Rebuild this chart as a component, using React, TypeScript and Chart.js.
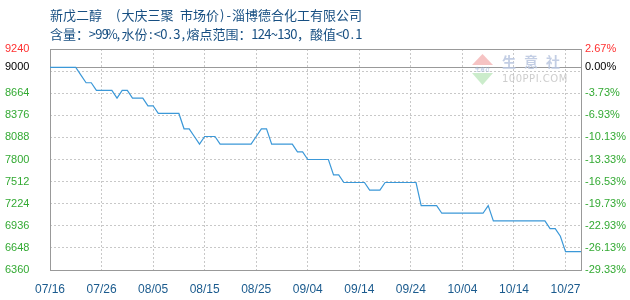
import { useEffect, useRef } from "react";
import { Chart, registerables } from "chart.js";

Chart.register(...registerables);

// Header text
const titleLine1 = "新戊二醇  (大庆三聚 市场价)-淄博德合化工有限公司";
const titleLine2 = "含量：>99%,水份:<0.3,熔点范围：124~130，酸值<0.1";

// X axis: one point per trading day, a label every 10 points
const xTickLabels = ["07/16", "07/26", "08/05", "08/15", "08/25", "09/04", "09/14", "09/24", "10/04", "10/14", "10/27"];
const xTickStep = 10;

// Daily market price (元/吨)
const prices = [
  9000, 9000, 9000, 9000, 9000, 9000, 8900, 8800, 8800, 8700,
  8700, 8700, 8700, 8600, 8700, 8700, 8600, 8600, 8600, 8500,
  8500, 8400, 8400, 8400, 8400, 8400, 8200, 8200, 8100, 8000,
  8100, 8100, 8100, 8000, 8000, 8000, 8000, 8000, 8000, 8000,
  8100, 8200, 8200, 8000, 8000, 8000, 8000, 8000, 7900, 7900,
  7800, 7800, 7800, 7800, 7800, 7600, 7600, 7500, 7500, 7500,
  7500, 7500, 7400, 7400, 7400, 7500, 7500, 7500, 7500, 7500,
  7500, 7500, 7200, 7200, 7200, 7200, 7100, 7100, 7100, 7100,
  7100, 7100, 7100, 7100, 7100, 7200, 7000, 7000, 7000, 7000,
  7000, 7000, 7000, 7000, 7000, 7000, 7000, 6900, 6900, 6800,
  6600, 6600, 6600, 6600,
];

// Y axis range; the first price is the reference for the % axis
const basePrice = 9000;
const yMin = 6360;
const yMax = 9240;
const labelTicks = [6360, 6648, 6936, 7224, 7512, 7800, 8088, 8376, 8664, 9000, 9240];
const gridTicks = [6360, 6648, 6936, 7224, 7512, 7800, 8088, 8376, 8664, 8952, 9240];

const RED = "#ff3030";
const GREEN = "#33aa33";
const BLACK = "#000000";
const FRAME = "#999999";
const GRID = "#c8c8c8";
const TITLE = "#174f82";
const XLABEL = "#1b5b8e";
const LINE = "#3b98d8";

const tickColor = (v: number) => (v === yMax ? RED : v === basePrice ? BLACK : GREEN);
const pct = (v: number) => (((v - basePrice) / basePrice) * 100).toFixed(2) + "%";

// Draw text on a fixed cell grid: wide (CJK) glyphs take a full cell, others half
function drawCells(ctx: CanvasRenderingContext2D, text: string, x: number, y: number, size: number) {
  let cx = x;
  for (const ch of text) {
    const wide = ch.charCodeAt(0) > 0x2e80;
    const adv = wide ? size : size / 2;
    ctx.textAlign = "center";
    ctx.fillText(ch, cx + adv / 2, y);
    cx += adv;
  }
}

export default function App() {
  const ref = useRef<HTMLCanvasElement>(null);

  useEffect(() => {
    const canvas = ref.current!;

    const header = {
      id: "header",
      afterDraw(chart: any) {
        const ctx: CanvasRenderingContext2D = chart.ctx;
        ctx.save();
        ctx.fillStyle = TITLE;
        ctx.textBaseline = "middle";
        ctx.font = "13px 'Noto Sans CJK SC'";
        drawCells(ctx, titleLine1, 50, 15, 13);
        drawCells(ctx, titleLine2, 50, 34, 13);
        ctx.restore();
      },
    };

    const watermark = {
      id: "watermark",
      beforeDatasetsDraw(chart: any) {
        const ctx: CanvasRenderingContext2D = chart.ctx;
        ctx.save();
        ctx.globalAlpha = 0.85;
        ctx.fillStyle = "#f4b9b9";
        ctx.beginPath();
        ctx.moveTo(482.5, 54);
        ctx.lineTo(493, 65);
        ctx.lineTo(472, 65);
        ctx.closePath();
        ctx.fill();
        ctx.fillStyle = "#c2e9c2";
        ctx.beginPath();
        ctx.moveTo(472, 73);
        ctx.lineTo(493, 73);
        ctx.lineTo(482.5, 85);
        ctx.closePath();
        ctx.fill();
        ctx.fillStyle = "#9fb4d8";
        ctx.font = "5px 'Noto Sans CJK SC'";
        ctx.textAlign = "center";
        ctx.textBaseline = "middle";
        ctx.fillText("生意社", 482.5, 69);
        ctx.fillStyle = "#b9c5df";
        ctx.font = "bold 14px 'Noto Sans CJK SC'";
        ctx.fillText("生", 509, 62);
        ctx.fillText("意", 531, 62);
        ctx.fillText("社", 553, 62);
        ctx.fillStyle = "#c4c4c4";
        ctx.font = "10px 'DejaVu Sans'";
        ctx.textAlign = "left";
        (ctx as any).letterSpacing = "0.5px";
        ctx.fillText("100PPI.COM", 502, 79);
        ctx.restore();
      },
    };

    const chart = new Chart(canvas, {
      type: "line",
      data: {
        datasets: [
          {
            data: prices.map((y, i) => ({ x: i, y })),
            borderColor: LINE,
            borderWidth: 1.2,
            pointRadius: 0,
            tension: 0,
            fill: false,
          },
        ],
      },
      options: {
        animation: false,
        responsive: false,
        maintainAspectRatio: false,
        layout: { padding: { top: 49, left: 5, right: 0, bottom: 0 } },
        plugins: {
          legend: { display: false },
          tooltip: { enabled: false },
          title: { display: false },
        },
        scales: {
          x: {
            type: "linear",
            min: 0,
            max: prices.length - 1,
            afterBuildTicks: (s: any) => {
              s.ticks = xTickLabels.map((_, i) => ({ value: i * xTickStep }));
            },
            afterFit: (s: any) => {
              s.height = 30;
            },
            grid: {
              color: (c: any) => (c.tick && c.tick.value === 0 ? "rgba(0,0,0,0)" : GRID),
              drawTicks: false,
              lineWidth: 1,
            },
            border: { display: true, color: FRAME, width: 1, dash: [2, 2] },
            ticks: {
              autoSkip: false,
              maxRotation: 0,
              minRotation: 0,
              padding: 12,
              color: XLABEL,
              font: { family: "'Liberation Sans'", size: 12 },
              callback: (_v: any, i: number) => xTickLabels[i],
            },
          },
          y: {
            position: "left",
            min: yMin,
            max: yMax,
            afterBuildTicks: (s: any) => {
              s.ticks = labelTicks.map((v) => ({ value: v }));
            },
            afterFit: (s: any) => {
              s.width = 45;
            },
            grid: {
              color: (c: any) =>
                c.tick && (c.tick.value === basePrice || c.tick.value === yMax) ? FRAME : "rgba(0,0,0,0)",
              drawTicks: false,
              lineWidth: 1,
            },
            border: { display: true, color: FRAME, width: 1 },
            ticks: {
              crossAlign: "far",
              padding: 0,
              color: (c: any) => tickColor(c.tick.value),
              font: { family: "'Liberation Sans'", size: 11 },
              callback: (v: any) => String(v),
            },
          },
          y2: {
            position: "right",
            min: yMin,
            max: yMax,
            afterBuildTicks: (s: any) => {
              const vals = Array.from(new Set([...gridTicks, ...labelTicks])).sort((a, b) => a - b);
              s.ticks = vals.map((v) => ({ value: v }));
            },
            afterFit: (s: any) => {
              s.width = 49;
            },
            grid: {
              color: (c: any) => {
                const v = c.tick && c.tick.value;
                if (!gridTicks.includes(v) || v === yMin || v === yMax) return "rgba(0,0,0,0)";
                return GRID;
              },
              drawTicks: false,
              lineWidth: 1,
            },
            border: { display: true, color: FRAME, width: 1, dash: [2, 2] },
            ticks: {
              padding: 4,
              color: (c: any) => tickColor(c.tick.value),
              font: { family: "'Liberation Sans'", size: 11 },
              callback: (v: any) => (labelTicks.includes(Number(v)) ? pct(Number(v)) : ""),
            },
          },
        },
      } as any,
      plugins: [header, watermark],
    });

    return () => chart.destroy();
  }, []);

  return (
    <div style={{ position: "fixed", left: 0, top: 0, width: 630, height: 300, background: "#ffffff" }}>
      <canvas ref={ref} width={630} height={300} style={{ display: "block", width: 630, height: 300 }} />
    </div>
  );
}
